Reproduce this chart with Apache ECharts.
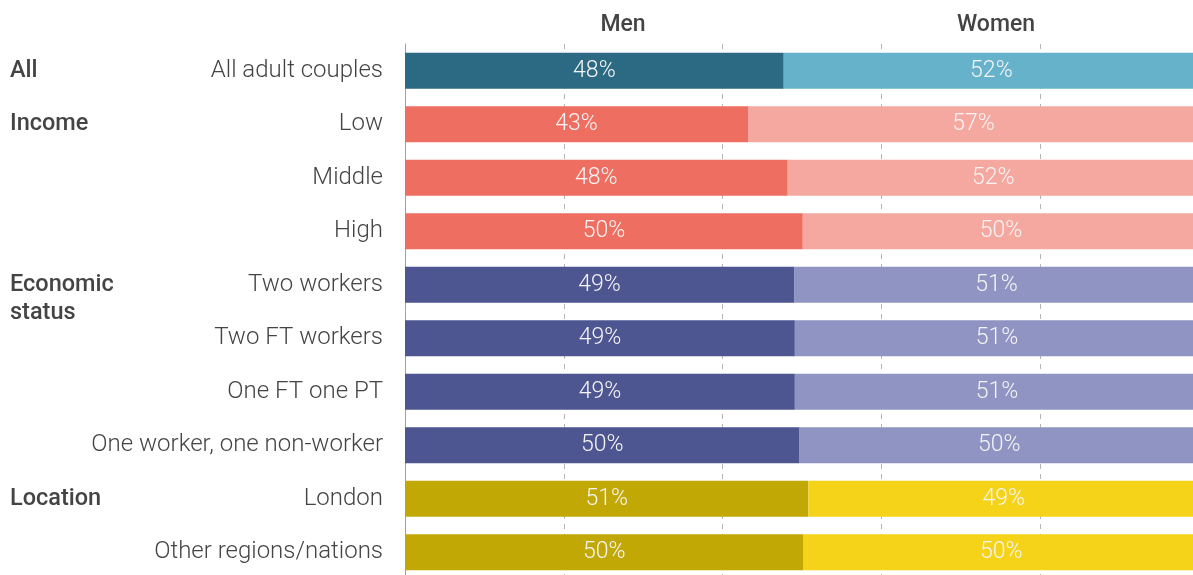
<!DOCTYPE html>
<html>
<head>
<meta charset="utf-8">
<script src="https://cdn.jsdelivr.net/npm/echarts@6/dist/echarts.min.js"></script>
<style>html,body{margin:0;padding:0;background:#fff;overflow:hidden;width:1193px;height:575px}#c{width:1199px;height:579px}</style>
</head>
<body>
<div id="c"></div>
<script>
var categories = ['All adult couples','Low','Middle','High','Two workers','Two FT workers','One FT one PT','One worker, one non-worker','London','Other regions/nations'];
var groupOfRow = ['All','Income','Income','Income','Economic','Economic','Economic','Economic','Location','Location'];
var groupLabels = ['All','Income','','','\nEconomic\nstatus','','','','Location',''];
var men   = [47.7, 43.2, 48.2, 50.1, 49.0, 49.1, 49.1, 49.7, 50.8, 50.2];
var women = [52.3, 56.8, 51.8, 49.9, 51.0, 50.9, 50.9, 50.3, 49.2, 49.8];
var seriesNames = ['Men','Women'];
var menColors   = {All:'#2b6a82', Income:'#ee6f62', Economic:'#4e5691', Location:'#c2a804'};
var womenColors = {All:'#67b2cb', Income:'#f5a8a0', Economic:'#8f94c3', Location:'#f4d319'};

var font = 'Roboto, "Noto Sans", sans-serif';
function items(vals, cmap){
  return vals.map(function(v,i){ return {value:v, itemStyle:{color:cmap[groupOfRow[i]]}}; });
}
var labelCfg = {show:true, position:'inside', color:'#f4f4f4', fontFamily:font, fontWeight:300, fontSize:23,
  formatter:function(p){return Math.round(p.value)+'%';}};

var chart = echarts.init(document.getElementById('c'));
chart.setOption({
  animation:false,
  grid:{left:405, right:0, top:44, bottom:0, containLabel:false},
  xAxis:{type:'value', min:0, max:100, interval:20, position:'top',
    axisLine:{show:false}, axisTick:{show:false}, axisLabel:{show:false},
    splitLine:{show:true, lineStyle:{color:'#b5b5b5', type:[5,5], width:1}}},
  yAxis:[
    {type:'category', data:categories, inverse:true,
     axisLine:{show:true, lineStyle:{color:'#a0a0a0', width:1}}, axisTick:{show:false},
     axisLabel:{color:'#444', fontFamily:font, fontWeight:300, fontSize:24, margin:22, padding:[0,0,5,0]}},
    {type:'category', data:groupLabels, inverse:true, position:'left',
     axisLine:{show:false}, axisTick:{show:false},
     axisLabel:{color:'#444', fontFamily:font, fontSize:23.5, fontWeight:500, align:'left', margin:395, lineHeight:28, padding:[0,0,5,0]}}
  ],
  series:[
    {name:seriesNames[0], type:'bar', stack:'t', barWidth:36, data:items(men, menColors), label:labelCfg},
    {name:seriesNames[1], type:'bar', stack:'t', barWidth:36, data:items(women, womenColors), label:labelCfg}
  ],
  graphic:[
    {type:'text', x:623, y:14, style:{text:seriesNames[0], fill:'#444', font:'500 23px '+font, textAlign:'center'}},
    {type:'text', x:996, y:14, style:{text:seriesNames[1], fill:'#444', font:'500 23px '+font, textAlign:'center'}}
  ]
});
</script>
</body>
</html>
